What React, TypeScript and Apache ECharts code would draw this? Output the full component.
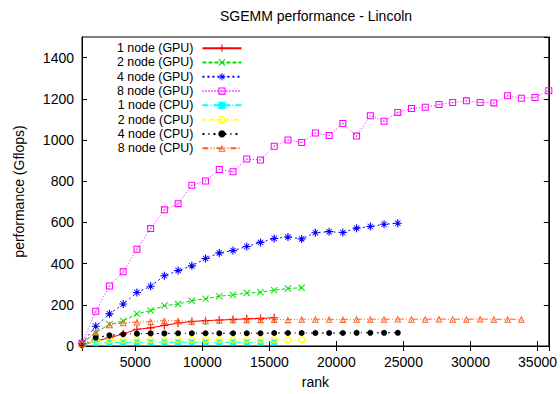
import React, { useEffect, useRef } from 'react';
import * as echarts from 'echarts';

const ranks = [1024, 2048, 3072, 4096, 5120, 6144, 7168, 8192, 9216, 10240, 11264, 12288, 13312, 14336, 15360, 16384, 17408, 18432, 19456, 20480, 21504, 22528, 23552, 24576, 25600, 26624, 27648, 28672, 29696, 30720, 31744, 32768, 33792, 34816, 35840];

const gpu1 = [5, 24, 40, 59, 81, 88, 100, 111, 119, 123, 126, 129, 132, 134, 137];
const gpu2 = [13, 65, 105, 121, 156, 172, 196, 204, 220, 229, 242, 248, 257, 261, 271, 279, 283];
const gpu4 = [13, 96, 156, 204, 260, 290, 341, 366, 389, 425, 452, 463, 483, 503, 522, 529, 520, 550, 555, 551, 572, 580, 591, 596];
const gpu8 = [13, 169, 291, 360, 470, 570, 661, 691, 780, 801, 857, 846, 908, 903, 970, 1000, 988, 1034, 1022, 1080, 1019, 1118, 1091, 1134, 1153, 1159, 1172, 1182, 1190, 1182, 1180, 1215, 1203, 1206, 1239];
const cpu1 = [5, 14, 16, 17, 18, 18, 18, 18, 18, 18, 18, 18, 18, 18, 18];
const cpu2 = [5, 24, 28, 29, 30, 30, 30, 30, 30, 30, 30, 30, 30, 30, 30, 30, 30];
const cpu4 = [5, 41, 52, 57, 60, 61, 61, 62, 62, 62, 62, 62, 62, 62, 63, 63, 63, 63, 63, 63, 64, 64, 64, 64];
const cpu8 = [13, 68, 103, 113, 116, 118, 123, 123, 120, 122, 125, 127, 128, 128, 129, 128, 130, 130, 130, 129, 130, 130, 130, 131, 130, 130, 131, 130, 130, 131, 130, 130, 130];

const seriesNames = ['1 node (GPU)', '2 node (GPU)', '4 node (GPU)', '8 node (GPU)', '1 node (CPU)', '2 node (CPU)', '4 node (CPU)', '8 node (CPU)'];
const seriesValues = [gpu1, gpu2, gpu4, gpu8, cpu1, cpu2, cpu4, cpu8];

const FONT = 'Liberation Sans, Arial, sans-serif';

const SYM_PLUS = 'path://M-0.14,-1H0.14V-0.14H1V0.14H0.14V1H-0.14V0.14H-1V-0.14H-0.14Z';
const SYM_CROSS = 'path://M-1,-0.8L-0.8,-1L0,-0.2L0.8,-1L1,-0.8L0.2,0L1,0.8L0.8,1L0,0.2L-0.8,1L-1,0.8L-0.2,0Z';
const SYM_STAR = 'path://M-0.14,-1H0.14V-0.14H1V0.14H0.14V1H-0.14V0.14H-1V-0.14H-0.14Z M-0.75,-0.6L-0.6,-0.75L0,-0.15L0.6,-0.75L0.75,-0.6L0.15,0L0.75,0.6L0.6,0.75L0,0.15L-0.6,0.75L-0.75,0.6L-0.15,0Z';
const SYM_OSQUARE = 'path://M-1,-1H1V1H-1Z M-0.7,-0.7V0.7H0.7V-0.7Z M-0.16,-0.16H0.16V0.16H-0.16Z';
const SYM_OCIRCLE = 'path://M0,-1A1,1 0 1,1 0,1A1,1 0 1,1 0,-1Z M0,-0.68A0.68,0.68 0 1,0 0,0.68A0.68,0.68 0 1,0 0,-0.68Z M-0.16,-0.16H0.16V0.16H-0.16Z';
const SYM_OTRI = 'path://M0,-1L1,0.75L-1,0.75Z M0,-0.4L-0.58,0.48L0.58,0.48Z M-0.14,0.05H0.14V0.3H-0.14Z';

const styles = [
  { color: '#ff0000', dash: 'solid' as any, symbol: SYM_PLUS, size: 8 },
  { color: '#00e000', dash: [4, 2], symbol: SYM_CROSS, size: 7 },
  { color: '#0000ff', dash: [2, 3], symbol: SYM_STAR, size: 8 },
  { color: '#ff00ff', dash: [1, 2], symbol: SYM_OSQUARE, size: 7 },
  { color: '#00ffff', dash: [6, 2, 1, 2], symbol: 'rect', size: 6 },
  { color: '#ffff00', dash: [3, 2, 1, 2], symbol: SYM_OCIRCLE, size: 7 },
  { color: '#000000', dash: [2, 4, 1, 4], symbol: 'circle', size: 6 },
  { color: '#ff6020', dash: [6, 2, 1, 2, 1, 2], symbol: SYM_OTRI, size: 7 },
];

function buildOption() {
  const series = seriesNames.map((name, i) => ({
    name,
    type: 'line',
    data: seriesValues[i].map((v, j) => [ranks[j], v]),
    symbol: styles[i].symbol,
    symbolSize: styles[i].size,
    clip: false,
    lineStyle: { color: styles[i].color, width: 1, type: styles[i].dash },
    itemStyle: { color: styles[i].color },
    emphasis: { disabled: true },
  }));

  const axisCommon = {
    axisLine: { show: true, lineStyle: { color: '#000', width: 1 } },
    axisTick: { show: true, inside: true, length: 5, lineStyle: { color: '#000' } },
    splitLine: { show: false },
  };

  const plain = (v: number) => String(v);

  return {
    animation: false,
    backgroundColor: '#fff',
    textStyle: { fontFamily: FONT, color: '#000' },
    title: {
      text: 'SGEMM performance - Lincoln',
      left: 316,
      top: 9,
      padding: 0,
      textAlign: 'center',
      textStyle: { fontFamily: FONT, fontSize: 14, fontWeight: 'normal', color: '#000' },
    },
    legend: {
      orient: 'vertical',
      left: 117,
      top: 41,
      padding: 0,
      itemWidth: 39,
      itemHeight: 9,
      itemGap: 0,
      align: 'right',
      selectedMode: false,
      textStyle: { fontFamily: FONT, fontSize: 12.4, color: '#000', lineHeight: 14.3, padding: [0, 4, 0, 0] },
    },
    grid: {
      left: 82,
      right: 10,
      top: 37,
      bottom: 43,
      show: true,
      borderColor: '#000',
      borderWidth: 1,
      backgroundColor: 'transparent',
    },
    xAxis: [
      {
        type: 'value',
        min: 1024,
        max: 35840,
        splitNumber: 7,
        position: 'bottom',
        name: 'rank',
        nameLocation: 'middle',
        nameGap: 29,
        nameTextStyle: { fontFamily: FONT, fontSize: 14, color: '#000' },
        ...axisCommon,
        axisLabel: { show: true, margin: 9, fontFamily: FONT, fontSize: 14, color: '#000', showMinLabel: false, showMaxLabel: false, formatter: plain },
      },
      {
        type: 'value',
        min: 1024,
        max: 35840,
        splitNumber: 7,
        position: 'top',
        ...axisCommon,
        axisLabel: { show: false },
      },
    ],
    yAxis: [
      {
        type: 'value',
        min: 0,
        max: 1500,
        interval: 200,
        position: 'left',
        name: 'performance (Gflops)',
        nameLocation: 'middle',
        nameGap: 56,
        nameTextStyle: { fontFamily: FONT, fontSize: 14, color: '#000' },
        ...axisCommon,
        axisLabel: { show: true, margin: 8, fontFamily: FONT, fontSize: 14, color: '#000', showMaxLabel: false, formatter: plain },
      },
      {
        type: 'value',
        min: 0,
        max: 1500,
        interval: 200,
        position: 'right',
        ...axisCommon,
        axisLabel: { show: false },
      },
    ],
    series,
  };
}

export default function App() {
  const ref = useRef<HTMLDivElement>(null);
  useEffect(() => {
    document.body.style.margin = '0';
    const chart = echarts.init(ref.current as HTMLDivElement, null, { renderer: 'svg' });
    chart.setOption(buildOption() as any);
    return () => {
      chart.dispose();
    };
  }, []);
  return <div ref={ref} style={{ width: 560, height: 394 }} />;
}
